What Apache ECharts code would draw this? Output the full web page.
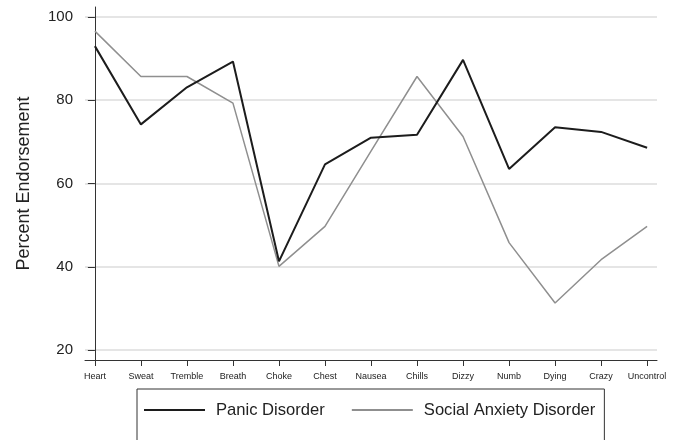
<!DOCTYPE html>
<html>
<head>
<meta charset="utf-8">
<script src="https://cdn.jsdelivr.net/npm/echarts@6/dist/echarts.min.js"></script>
<style>
  html, body { margin: 0; padding: 0; background: #fff; }
  #chart { width: 676px; height: 440px; }
</style>
</head>
<body>
<div id="chart"></div>
<script>
// Symptom categories along the x axis
var symptoms = ['Heart', 'Sweat', 'Tremble', 'Breath', 'Choke', 'Chest', 'Nausea',
                'Chills', 'Dizzy', 'Numb', 'Dying', 'Crazy', 'Uncontrol'];

// Percent endorsement per symptom
var panicDisorder = [93.0, 74.2, 83.1, 89.3, 41.3, 64.6, 71.0, 71.7, 89.7, 63.5, 73.5, 72.4, 68.6];
var socialAnxiety = [96.6, 85.7, 85.7, 79.3, 40.1, 49.7, 67.8, 85.7, 71.3, 45.8, 31.3, 41.7, 49.7];

// Y axis tick labels
var yTicks = [20, 40, 60, 80, 100];

var font = 'Liberation Sans, Arial, Helvetica, sans-serif';
var symptomIdx = symptoms.map(function (_, i) { return i; });

var panicColor = '#1c1c1c';
var socialColor = '#8f8f8f';

function pairs(values) {
  return values.map(function (v, i) { return [i, v]; });
}

var chart = echarts.init(document.getElementById('chart'), null, { renderer: 'canvas' });

chart.setOption({
  animation: false,
  backgroundColor: '#ffffff',
  grid: { left: 85, right: 19, top: 7, bottom: 80, containLabel: false },
  xAxis: {
    type: 'value',
    min: -0.215,
    max: 12.215,
    axisLine: { show: true, lineStyle: { color: '#333', width: 1 } },
    axisTick: { show: true, length: 6, customValues: symptomIdx, lineStyle: { color: '#333', width: 1 } },
    axisLabel: {
      customValues: symptomIdx,
      margin: 12,
      color: '#222',
      fontFamily: font,
      fontSize: 9,
      formatter: function (v) { return symptoms[Math.round(v)]; }
    },
    splitLine: { show: false }
  },
  yAxis: {
    type: 'value',
    min: 17.6,
    max: 102.4,
    name: 'Percent Endorsement',
    nameLocation: 'middle',
    nameRotate: 90,
    nameGap: 52,
    nameTextStyle: { color: '#222', fontFamily: font, fontSize: 18 },
    axisLine: { show: true, lineStyle: { color: '#333', width: 1 } },
    axisTick: { show: true, length: 7, customValues: yTicks, lineStyle: { color: '#333', width: 1 } },
    axisLabel: {
      customValues: yTicks,
      margin: 12,
      color: '#222',
      fontFamily: font,
      fontSize: 15
    },
    splitLine: { show: true, lineStyle: { color: '#dcdcdc', width: 1.5 } }
  },
  legend: {
    left: 137,
    top: 389,
    orient: 'horizontal',
    icon: 'rect',
    itemWidth: 61,
    itemHeight: 2,
    itemGap: 27,
    padding: [12, 9, 40, 7],
    borderColor: '#333',
    borderWidth: 1,
    backgroundColor: '#fff',
    textStyle: { color: '#222', fontFamily: font, fontSize: 16.6, lineHeight: 18, padding: [0, 0, 0, 6] },
    data: [
      { name: 'Panic Disorder', itemStyle: { color: panicColor } },
      { name: 'Social Anxiety Disorder', itemStyle: { color: socialColor } }
    ]
  },
  series: [
    {
      name: 'Panic Disorder',
      type: 'line',
      data: pairs(panicDisorder),
      symbol: 'none',
      lineStyle: { color: panicColor, width: 2 },
      itemStyle: { color: panicColor },
      z: 3
    },
    {
      name: 'Social Anxiety Disorder',
      type: 'line',
      data: pairs(socialAnxiety),
      symbol: 'none',
      lineStyle: { color: socialColor, width: 1.5 },
      itemStyle: { color: socialColor },
      z: 2
    }
  ]
});
</script>
</body>
</html>
